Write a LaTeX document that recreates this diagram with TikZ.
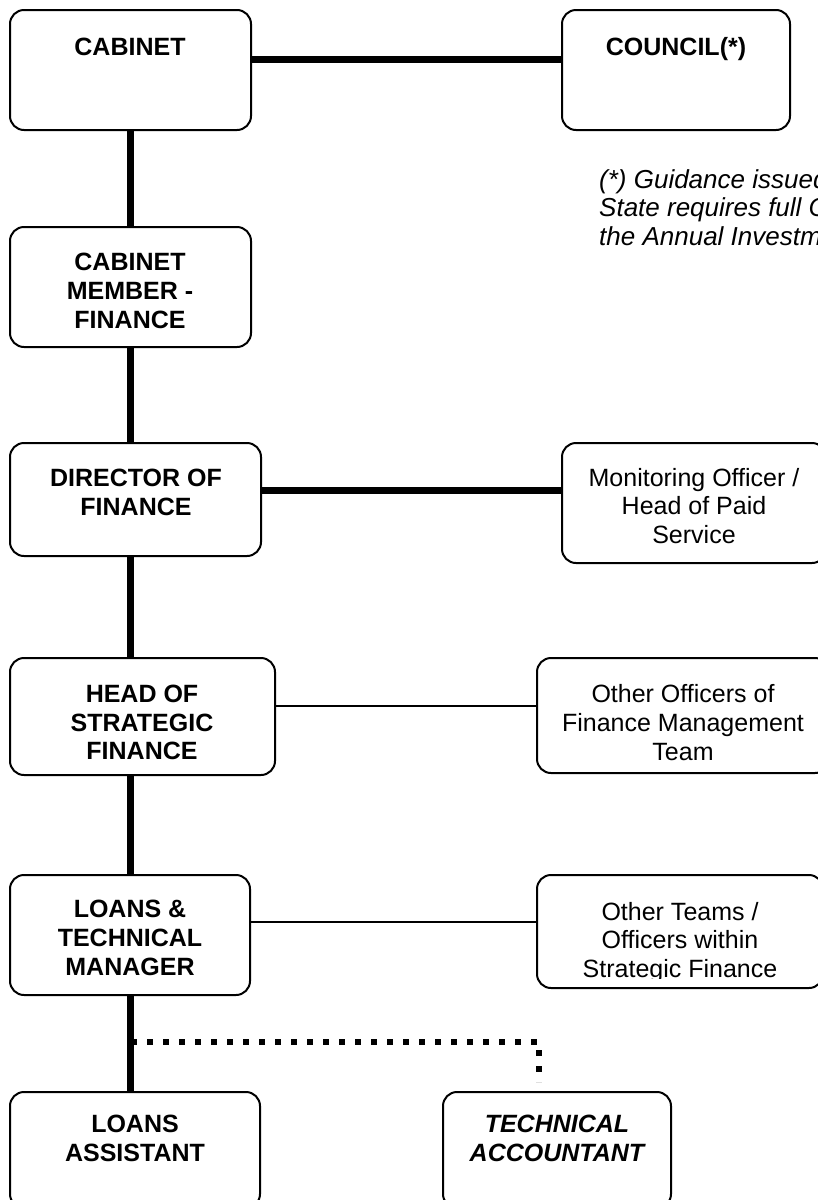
\documentclass[tikz,border=0pt]{standalone}
\usepackage{fontspec}
\setmainfont{Liberation Sans}
\begin{document}
\begin{tikzpicture}[x=1pt,y=-1pt,
  box/.style={draw, line width=2pt, rounded corners=14pt, inner sep=0pt},
  txt/.style={inner sep=0pt, align=center, font={\fontsize{25}{28.75}\selectfont\bfseries}},
  rtxt/.style={inner sep=0pt, align=center, font={\fontsize{25}{28.75}\selectfont}},
  note/.style={inner sep=0pt, align=left, font={\fontsize{26}{28.75}\selectfont\itshape}},
  thickline/.style={line width=7pt},
  thinline/.style={line width=1.8pt},
  dotline/.style={line width=6pt, dash pattern=on 6pt off 10pt},
]
\fill[white] (0,0) rectangle (818,1200);
\useasboundingbox (0,0) rectangle (818,1200);

% boxes
\node[box, minimum width=241pt, minimum height=120pt] (cab) at (130.5,70) {};
\node[box, minimum width=228pt, minimum height=120pt] (council) at (676,70) {};
\node[box, minimum width=241pt, minimum height=120pt] (cmf) at (130.5,287) {};
\node[box, minimum width=251pt, minimum height=113pt] (dof) at (135.5,499.5) {};
\node[box, minimum width=264pt, minimum height=120pt] (mon) at (694,503) {};
\node[box, minimum width=265pt, minimum height=117pt] (hsf) at (142.5,716.5) {};
\node[box, minimum width=292pt, minimum height=115pt] (ooft) at (683,715.5) {};
\node[box, minimum width=240pt, minimum height=120pt] (ltm) at (130,935) {};
\node[box, minimum width=286pt, minimum height=113pt] (otst) at (680,931.5) {};
\node[box, minimum width=250pt, minimum height=116pt] (la) at (135,1150) {};
\node[box, minimum width=228pt, minimum height=116pt] (ta) at (557,1150) {};

% texts
\node[txt, anchor=base] (cabT) at (130,55) {CABINET};
\node[txt, anchor=base] (councilT) at (676,55) {COUNCIL(*)};
\node[txt] (cmfT) at (130,291) {CABINET\\MEMBER -\\FINANCE};
\node[txt] (dofT) at (136,492.5) {DIRECTOR OF\\FINANCE};
\node[rtxt] (monT) at (694,506) {Monitoring Officer /\\Head of Paid\\Service};
\node[txt] (hsfT) at (142,722.5) {HEAD OF\\STRATEGIC\\FINANCE};
\node[rtxt] (ooftT) at (683,722.5) {Other Officers of\\Finance Management\\Team};
\node[txt] (ltmT) at (130,938) {LOANS \&\\TECHNICAL\\MANAGER};
\begin{scope}
  \clip (otst.north west) rectangle ([yshift=11pt]otst.south east);
  \node[rtxt] (otstT) at (680,942.5) {Other Teams /\\Officers within\\Strategic Finance};
\end{scope}
\node[txt] (laT) at (135,1138.5) {LOANS\\ASSISTANT};
\node[txt, font={\fontsize{25}{28.75}\selectfont\bfseries\itshape}] (taT) at (557,1138.5) {TECHNICAL\\ACCOUNTANT};
\node[note, anchor=north west] (noteT) at (599,169) {(*) Guidance issued\\State requires full C\\the Annual Investm};

% connectors
\draw[thickline] ([yshift=11pt]cab.east) -- ([yshift=11pt]council.west);
\draw[thickline] (cab.south) -- (cmf.north);
\draw[thickline] (cmf.south) -- (cmf.south |- dof.north);
\draw[thickline] (dof.south -| cmf.south) -- (cmf.south |- hsf.north);
\draw[thickline] (hsf.south -| cmf.south) -- (cmf.south |- ltm.north);
\draw[thickline] (ltm.south -| cmf.south) -- (cmf.south |- la.north);
\draw[thickline] ([yshift=9pt]dof.east) -- ([yshift=9pt]dof.east -| mon.west);
\draw[thinline] ([yshift=10.5pt]hsf.east) -- ([yshift=10.5pt]hsf.east -| ooft.west);
\draw[thinline] ([yshift=13pt]ltm.east) -- ([yshift=13pt]ltm.east -| otst.west);
\coordinate (d1) at (131,1042);
\coordinate (d2) at (539,1082);
\draw[dotline] (d1) -| (d2);
\end{tikzpicture}
\end{document}
